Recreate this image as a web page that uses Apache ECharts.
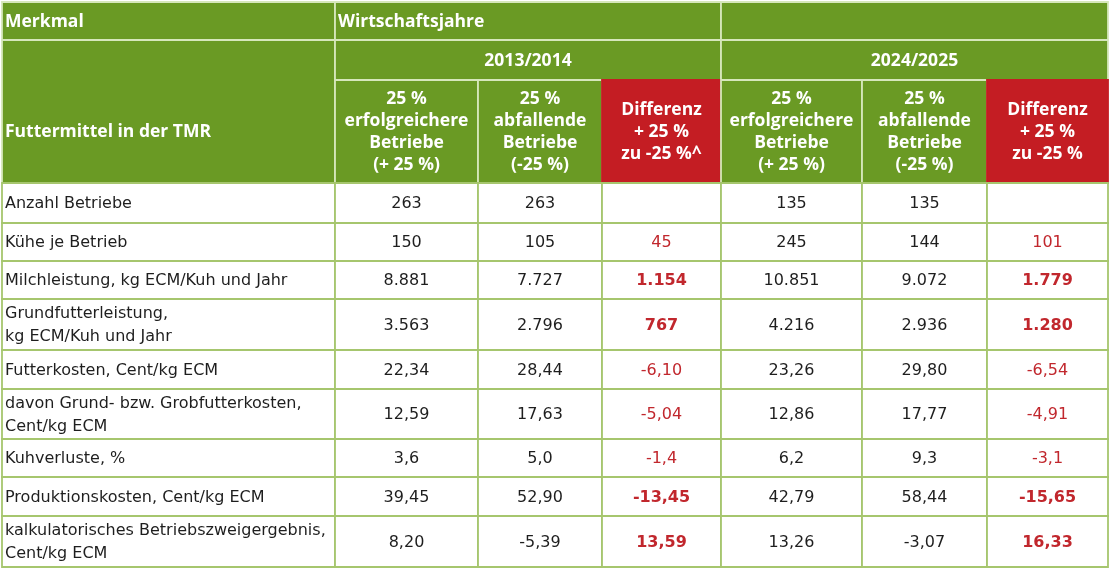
<!DOCTYPE html>
<html>
<head>
<meta charset="utf-8">
<script src="https://cdn.jsdelivr.net/npm/echarts@6/dist/echarts.min.js"></script>
<style>
html, body { margin: 0; padding: 0; background: #fff; }
#chart { width: 1110px; height: 575px; }
</style>
</head>
<body>
<div id="chart"></div>
<script>
// Zeilen der Tabelle
var rowLabels = [
	'Anzahl Betriebe',
	'Kühe je Betrieb',
	'Milchleistung, kg ECM/Kuh und Jahr',
	'Grundfutterleistung,\nkg ECM/Kuh und Jahr',
	'Futterkosten, Cent/kg ECM',
	'davon Grund- bzw. Grobfutterkosten,\nCent/kg ECM',
	'Kuhverluste, %',
	'Produktionskosten, Cent/kg ECM',
	'kalkulatorisches Betriebszweigergebnis,\nCent/kg ECM'
];
var decimals = [0, 0, 0, 0, 2, 2, 1, 2, 2];
var diffBold = [false, false, true, true, false, false, false, true, true];

// 2013/2014
var top2013 = [263, 150, 8881, 3563, 22.34, 12.59, 3.6, 39.45, 8.20];
var low2013 = [263, 105, 7727, 2796, 28.44, 17.63, 5.0, 52.90, -5.39];
var diff2013 = [null, 45, 1154, 767, -6.10, -5.04, -1.4, -13.45, 13.59];
// 2024/2025
var top2024 = [135, 245, 10851, 4216, 23.26, 12.86, 6.2, 42.79, 13.26];
var low2024 = [135, 144, 9072, 2936, 29.80, 17.77, 9.3, 58.44, -3.07];
var diff2024 = [null, 101, 1779, 1280, -6.54, -4.91, -3.1, -15.65, 16.33];

var headMerkmal = 'Merkmal';
var headYears = 'Wirtschaftsjahre';
var headFutter = 'Futtermittel in der TMR';
var periods = ['2013/2014', '2024/2025'];
var subHeads2013 = ['25 %\nerfolgreichere\nBetriebe\n(+ 25 %)', '25 %\nabfallende\nBetriebe\n(-25 %)', 'Differenz\n+ 25 %\nzu -25 %^'];
var subHeads2024 = ['25 %\nerfolgreichere\nBetriebe\n(+ 25 %)', '25 %\nabfallende\nBetriebe\n(-25 %)', 'Differenz\n+ 25 %\nzu -25 %'];

// Layout (Spaltenbreiten / Zeilenhöhen in Achseneinheiten)
var colW = [333, 143, 124, 119, 141, 125, 121];
var headH = [38, 40, 103];
var bodyH = [40, 38, 38, 51, 39, 50, 38, 39, 51];

var GREEN = '#6a9a24';
var RED = '#c41d23';
var TXT_RED = '#c1272d';
var FONT_BODY = '"DejaVu Sans", sans-serif';
var FONT_HEAD = '"Open Sans", Lato, sans-serif';

function fmt(v, d){
	if(v === null) return '';
	var neg = v < 0;
	var s = Math.abs(v).toFixed(d);
	var parts = s.split('.');
	var ip = parts[0].replace(/\B(?=(\d{3})+(?!\d))/g, '.');
	return (neg ? '-' : '') + ip + (parts[1] ? ',' + parts[1] : '');
}

var colX = [0];
colW.forEach(function(w, i){ colX.push(colX[i] + w); });
var rowY = [0];
headH.concat(bodyH).forEach(function(h, i){ rowY.push(rowY[i] + h); });
var totalW = colX[colX.length - 1];
var totalH = rowY[rowY.length - 1];

var cells = [];
function cell(c0, c1, r0, r1, text, opt){
	opt = opt || {};
	cells.push({
		x0: colX[c0], x1: colX[c1], y0: rowY[r0], y1: rowY[r1],
		ty0: rowY[opt.tr0 != null ? opt.tr0 : r0], ty1: rowY[opt.tr1 != null ? opt.tr1 : r1],
		text: text, fill: opt.fill || '#fff', stroke: opt.stroke || '#a6c66e',
		color: opt.color || '#1e1e1e', bold: !!opt.bold, size: opt.size || 16,
		font: opt.font || FONT_BODY,
		align: opt.align || 'center', lh: opt.lh || 23
	});
}

var hs = {fill: GREEN, stroke: '#d6e7bb', color: '#fff', bold: true, size: 17.5, font: FONT_HEAD};
cell(0, 1, 0, 1, headMerkmal, Object.assign({align: 'left'}, hs));
cell(1, 4, 0, 1, headYears, Object.assign({align: 'left'}, hs));
cell(4, 7, 0, 1, '', hs);
cell(0, 1, 1, 3, headFutter, Object.assign({align: 'left', tr0: 2, tr1: 3}, hs));
cell(1, 4, 1, 2, periods[0], hs);
cell(4, 7, 1, 2, periods[1], hs);
[subHeads2013, subHeads2024].forEach(function(list, g){
	list.forEach(function(t, k){
		var c = 1 + g * 3 + k;
		var o = Object.assign({lh: 22}, hs);
		if(k === 2){ o.fill = RED; o.stroke = RED; }
		cell(c, c + 1, 2, 3, t, o);
	});
});

var cols = [top2013, low2013, diff2013, top2024, low2024, diff2024];
rowLabels.forEach(function(label, i){
	var r = 3 + i;
	cell(0, 1, r, r + 1, label, {align: 'left'});
	cols.forEach(function(arr, k){
		var isDiff = k === 2 || k === 5;
		cell(k + 1, k + 2, r, r + 1, fmt(arr[i], decimals[i]), {
			color: isDiff ? TXT_RED : '#1e1e1e',
			bold: isDiff && diffBold[i]
		});
	});
});

var chart = echarts.init(document.getElementById('chart'));
chart.setOption({
	animation: false,
	grid: {left: 2, top: 2, width: totalW, height: totalH},
	xAxis: {type: 'value', min: 0, max: totalW, show: false},
	yAxis: {type: 'value', min: 0, max: totalH, inverse: true, show: false},
	series: [{
		type: 'custom',
		clip: false,
		data: cells.map(function(c){ return [c.x0, c.x1, c.y0, c.y1, c.ty0, c.ty1]; }),
		renderItem: function(params, api){
			var c = cells[params.dataIndex];
			var p0 = api.coord([api.value(0), api.value(2)]);
			var p1 = api.coord([api.value(1), api.value(3)]);
			var t0 = api.coord([api.value(0), api.value(4)]);
			var t1 = api.coord([api.value(1), api.value(5)]);
			var tx = c.align === 'left' ? p0[0] + 3 : (p0[0] + p1[0]) / 2;
			return {
				type: 'group',
				children: [{
					type: 'rect',
					shape: {x: p0[0], y: p0[1], width: p1[0] - p0[0], height: p1[1] - p0[1]},
					style: {fill: c.fill, stroke: c.stroke, lineWidth: 1.8}
				}, {
					type: 'text',
					style: {
						x: tx, y: (t0[1] + t1[1]) / 2 + 1,
						text: c.text,
						fill: c.color,
						fontFamily: c.font,
						fontSize: c.size,
						fontWeight: c.bold ? 'bold' : 'normal',
						lineHeight: c.lh,
						align: c.align,
						verticalAlign: 'middle'
					}
				}]
			};
		}
	}]
});
</script>
</body>
</html>
